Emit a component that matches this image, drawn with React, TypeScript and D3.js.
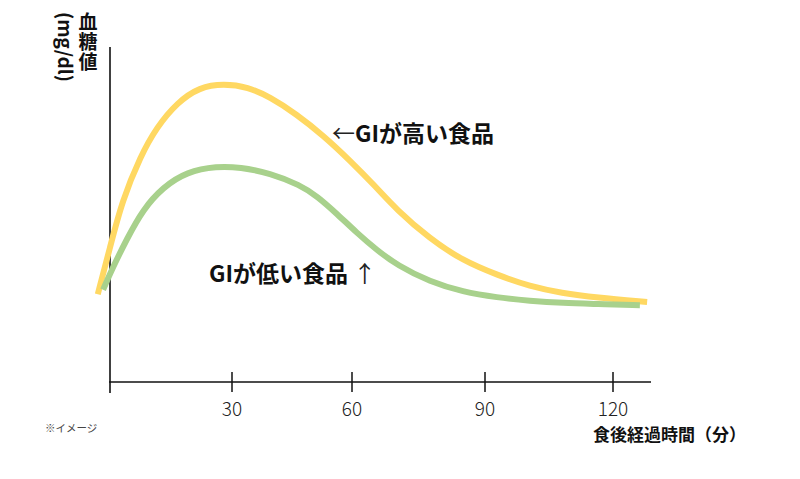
import React from "react";
import * as d3 from "d3";

const tickMinutes = [30, 60, 90, 120];
const tickAnchors = [0, 30, 60, 90, 120];

// [minutes after meal, blood glucose (arbitrary mg/dl)]
const highGI: [number, number][] = [
  [-3, 89], [0, 110], [3, 131], [7.5, 151], [11.5, 164], [16.5, 175], [22, 182],
  [28, 183.5], [34, 182], [39.5, 177.5], [46, 170], [53, 160], [59.5, 149],
  [65, 138], [70, 127], [77.5, 114], [85, 104], [93, 97.5], [100.5, 92.5],
  [108, 89.5], [116, 87.5], [128, 85.5],
];
const lowGI: [number, number][] = [
  [-1.7, 91], [0.7, 101], [4.2, 114], [8.1, 127], [13, 137], [18.9, 144],
  [26.3, 146.5], [32, 146], [39.5, 143.4], [47, 138], [51.3, 133], [56.3, 125],
  [61.1, 116.5], [65.6, 108.8], [70.2, 102], [77.6, 94.5], [85, 90], [92.8, 87.5],
  [100.5, 86], [108.3, 85], [116.2, 84.6], [126.3, 84],
];

const yDomain = [50, 200];
const FONT = "'Noto Sans CJK JP', 'Noto Sans', sans-serif";
const ARROW_FONT = "'Noto Sans CJK JP', sans-serif";

export default function App() {
  const W = 800, H = 479;
  const x = d3.scaleLinear().domain(tickAnchors).range([110, 232, 352, 485, 613]);
  const y = d3.scaleLinear().domain(yDomain).range([381, 47]);
  const axisY = 382;
  const line = d3
    .line<[number, number]>()
    .x((d) => x(d[0]))
    .y((d) => y(d[1]))
    .curve(d3.curveBasis);

  return (
    <svg width={W} height={H} style={{ position: "absolute", left: 0, top: 0, background: "#fff" }} fontFamily={FONT}>
      <rect width={W} height={H} fill="#fff" />
      {/* axes */}
      <line x1={x(0)} x2={x(0)} y1={47} y2={393} stroke="#111" strokeWidth={1.6} />
      <line x1={x(0) - 1} x2={651} y1={axisY} y2={axisY} stroke="#111" strokeWidth={1.6} />
      {tickMinutes.map((t) => (
        <g key={t}>
          <line x1={x(t)} x2={x(t)} y1={372} y2={392} stroke="#111" strokeWidth={1.5} />
          <text x={x(t)} y={416} textAnchor="middle" fontSize={19} fill="#222" fontWeight={300}>
            {t}
          </text>
        </g>
      ))}
      {/* curves */}
      <path d={line(highGI) || ""} fill="none" stroke="#FFD862" strokeWidth={6} />
      <path d={line(lowGI) || ""} fill="none" stroke="#A8D18C" strokeWidth={6} />

      {/* y label */}
      <text
        x={88}
        y={12}
        fontSize={19}
        fontWeight={700}
        fill="#111"
        style={{ writingMode: "vertical-rl" as any }}
        letterSpacing={1}
      >
        血糖値
      </text>
      <text
        transform="translate(58,47) rotate(90)"
        textAnchor="middle"
        fontSize={19}
        fontWeight={700}
        fill="#111"
      >
        (mg/dl)
      </text>

      {/* annotations */}
      <text x={332} y={142} fontSize={23} fontWeight={700} fill="#111">
        <tspan fontWeight={400} fontFamily={ARROW_FONT} fill="#222">←</tspan>GIが高い食品
      </text>
      <text x={209} y={282} fontSize={23} fontWeight={700} fill="#111">
        GIが低い食品 <tspan fontWeight={400} fontFamily={ARROW_FONT} fill="#222">↑</tspan>
      </text>

      <text x={45} y={432} fontSize={10.5} fill="#444">
        ※イメージ
      </text>
      <text x={593} y={441} fontSize={17} fontWeight={700} fill="#111">
        食後経過時間（分）
      </text>
    </svg>
  );
}
